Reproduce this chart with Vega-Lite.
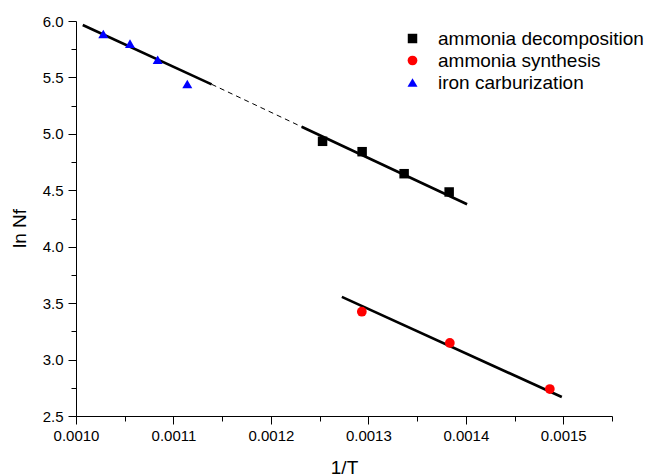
{
  "$schema": "https://vega.github.io/schema/vega-lite/v6.json",
  "width": 536,
  "height": 395,
  "autosize": "none",
  "padding": {"left": 76, "top": 21, "right": 42, "bottom": 60},
  "background": "white",
  "config": {
    "font": "Liberation Sans",
    "view": {"stroke": null},
    "axis": {"grid": false, "domainColor": "black", "tickColor": "black", "labelColor": "black", "titleColor": "black", "titleFontWeight": "normal", "domainWidth": 1, "tickWidth": 1}
  },
  "datasets": {
    "points": [
      {"x": 0.0012530, "y": 4.934, "series": "ammonia decomposition"},
      {"x": 0.0012936, "y": 4.842, "series": "ammonia decomposition"},
      {"x": 0.0013367, "y": 4.647, "series": "ammonia decomposition"},
      {"x": 0.0013829, "y": 4.485, "series": "ammonia decomposition"},
      {"x": 0.0012933, "y": 3.424, "series": "ammonia synthesis"},
      {"x": 0.0013836, "y": 3.147, "series": "ammonia synthesis"},
      {"x": 0.0014862, "y": 2.739, "series": "ammonia synthesis"},
      {"x": 0.0010280, "y": 5.885, "series": "iron carburization"},
      {"x": 0.0010554, "y": 5.799, "series": "iron carburization"},
      {"x": 0.0010838, "y": 5.657, "series": "iron carburization"},
      {"x": 0.0011142, "y": 5.442, "series": "iron carburization"}
    ],
    "fits": [
      {"x": 0.0010069, "y": 5.965, "fit": "iron carburization"},
      {"x": 0.0011392, "y": 5.439, "fit": "iron carburization"},
      {"x": 0.0012315, "y": 5.063, "fit": "ammonia decomposition"},
      {"x": 0.0014013, "y": 4.376, "fit": "ammonia decomposition"},
      {"x": 0.0012728, "y": 3.555, "fit": "ammonia synthesis"},
      {"x": 0.0014985, "y": 2.668, "fit": "ammonia synthesis"}
    ],
    "bridge": [
      {"x": 0.0011392, "y": 5.439},
      {"x": 0.0012315, "y": 5.063}
    ]
  },
  "encoding": {
    "x": {
      "field": "x", "type": "quantitative",
      "scale": {"domain": [0.001, 0.00155], "nice": false, "zero": false},
      "axis": {
        "title": "1/T",
        "titleFontSize": 19,
        "titlePadding": 15,
        "values": [0.001, 0.00105, 0.0011, 0.00115, 0.0012, 0.00125, 0.0013, 0.00135, 0.0014, 0.00145, 0.0015, 0.00155],
        "labelExpr": "abs(datum.value*10000 - round(datum.value*10000)) < 0.01 ? format(datum.value, '.4f') : ''",
        "labelFontSize": 15,
        "labelPadding": 4,
        "labelFlush": false,
        "labelOverlap": false,
        "tickSize": {"condition": {"test": "abs(datum.value*10000 - round(datum.value*10000)) < 0.01", "value": 8}, "value": 5}
      }
    },
    "y": {
      "field": "y", "type": "quantitative",
      "scale": {"domain": [2.5, 6.0], "nice": false, "zero": false},
      "axis": {
        "title": "ln Nf",
        "titleFontSize": 19,
        "titleX": -51,
        "titleY": 207,
        "titleAlign": "center",
        "titleBaseline": "alphabetic",
        "titleAngle": -90,
        "values": [2.5, 2.75, 3.0, 3.25, 3.5, 3.75, 4.0, 4.25, 4.5, 4.75, 5.0, 5.25, 5.5, 5.75, 6.0],
        "labelExpr": "abs(datum.value*2 - round(datum.value*2)) < 0.01 ? format(datum.value, '.1f') : ''",
        "labelFontSize": 15,
        "labelPadding": 5,
        "labelFlush": false,
        "labelOverlap": false,
        "tickSize": {"condition": {"test": "abs(datum.value*2 - round(datum.value*2)) < 0.01", "value": 8}, "value": 5}
      }
    }
  },
  "layer": [
    {
      "data": {"name": "fits"},
      "mark": {"type": "line", "color": "black", "strokeWidth": 2.6},
      "encoding": {"detail": {"field": "fit"}}
    },
    {
      "data": {"name": "bridge"},
      "mark": {"type": "line", "color": "black", "strokeWidth": 1, "strokeDash": [5, 4]},
      "encoding": {}
    },
    {
      "data": {"name": "points"},
      "mark": {"type": "point", "filled": true, "opacity": 1},
      "encoding": {
        "size": {
          "field": "series", "type": "nominal",
          "scale": {"domain": ["ammonia decomposition", "ammonia synthesis", "iron carburization"], "range": [90, 100, 190]},
          "legend": null
        },
        "shape": {
          "field": "series", "type": "nominal",
          "scale": {"domain": ["ammonia decomposition", "ammonia synthesis", "iron carburization"], "range": ["square", "circle", "triangle-up"]},
          "legend": null
        },
        "color": {
          "field": "series", "type": "nominal",
          "scale": {"domain": ["ammonia decomposition", "ammonia synthesis", "iron carburization"], "range": ["black", "#ff0000", "#0000ff"]},
          "legend": {
            "title": null,
            "orient": "none",
            "legendX": 327,
            "legendY": 8,
            "labelFontSize": 19,
            "labelColor": "black",
            "labelLimit": 0,
            "labelOffset": 16,
            "symbolSize": 90,
            "rowPadding": 2,
            "padding": 0
          }
        }
      }
    }
  ]
}
